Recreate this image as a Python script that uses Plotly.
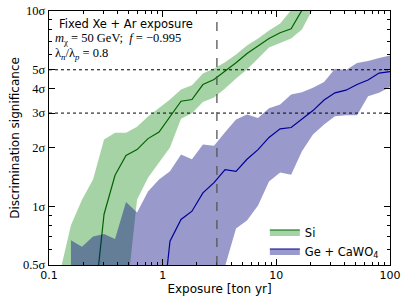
import plotly.graph_objects as go

# Exposure grid [ton yr]
exposure = [0.1, 0.125, 0.156, 0.195, 0.244, 0.305, 0.381, 0.476, 0.595, 0.743,
            0.929, 1.16, 1.45, 1.81, 2.26, 2.83, 3.54, 4.42, 5.52, 6.90,
            8.62, 10.8, 13.5, 16.8, 21.0, 26.3, 32.8, 41.0, 51.3, 64.1,
            80.1, 100.0]

# Si: band indices 1..25, centre indices 4..24
si_band_x = exposure[1:26]
si_upper = [0.46, 0.80, 1.08, 1.37, 2.20, 2.38, 2.38, 2.55, 2.88, 3.20,
            3.52, 3.96, 4.16, 4.79, 5.08, 5.47, 5.99, 6.66, 7.23, 7.95,
            8.63, 10.1, 12.0, 13.0, 14.0]
si_lower = [0.20, 0.20, 0.20, 0.20, 0.20, 0.20, 0.325, 1.08, 1.40, 1.67,
            2.00, 2.81, 2.99, 3.42, 3.61, 4.01, 4.51, 5.02, 5.71, 6.50,
            6.86, 7.23, 8.05, 10.3, 12.0]
si_x = exposure[4:25]
si_mid = [0.27, 0.91, 1.44, 1.82, 1.95, 2.22, 2.40, 2.88, 3.45, 3.52,
          4.20, 4.46, 4.92, 5.43, 6.06, 6.61, 7.23, 7.74, 8.11, 10.1, 12.0]

# Ge + CaWO4: band indices 2..31, centre indices 10..31
ge_band_x = exposure[2:32]
ge_upper = [0.67, 0.62, 0.70, 0.72, 0.68, 1.05, 0.93, 1.19, 1.37, 1.51,
            1.84, 1.74, 2.07, 2.04, 2.39, 2.78, 2.95, 2.83, 3.18, 3.32,
            3.74, 3.84, 4.04, 4.33, 5.06, 4.98, 5.42, 5.54, 5.75, 5.92]
ge_lower = [0.20, 0.20, 0.20, 0.20, 0.20, 0.20, 0.20, 0.20, 0.20, 0.20,
            0.20, 0.20, 0.20, 0.30, 0.49, 0.77, 0.845, 1.01, 1.34, 1.49,
            1.45, 1.91, 2.33, 2.62, 2.89, 2.92, 2.92, 3.66, 3.81, 4.08]
ge_x = exposure[10:32]
ge_mid = [0.20, 0.662, 0.855, 0.943, 1.17, 1.32, 1.54, 1.51, 1.74, 1.95,
          2.25, 2.49, 2.53, 2.78, 3.09, 3.50, 3.81, 3.93, 4.20, 4.43,
          4.81, 4.89]

ref_exposure = 3.0
sigma_levels = [3, 5]

y_tickvals = [0.5, 1, 2, 3, 4, 5, 10]
y_ticktext = ["0.5σ", "1σ", "2σ", "3σ", "4σ", "5σ", "10σ"]
x_tickvals = [0.1, 1, 10, 100]
x_ticktext = ["0.1", "1", "10", "100"]

GREEN_FILL = "rgba(0,128,0,0.35)"
GREEN_LINE = "rgb(0,100,0)"
BLUE_FILL = "rgba(0,0,128,0.40)"
BLUE_LINE = "rgb(0,0,150)"

fig = go.Figure()

fig.add_trace(go.Scatter(
    x=si_band_x + si_band_x[::-1], y=si_upper + si_lower[::-1],
    fill="toself", fillcolor=GREEN_FILL, mode="lines", line=dict(width=0),
    showlegend=False, hoverinfo="skip"))
fig.add_trace(go.Scatter(
    x=si_x, y=si_mid, mode="lines", line=dict(color=GREEN_LINE, width=1.2),
    showlegend=False))
fig.add_trace(go.Scatter(
    x=ge_band_x + ge_band_x[::-1], y=ge_upper + ge_lower[::-1],
    fill="toself", fillcolor=BLUE_FILL, mode="lines", line=dict(width=0),
    showlegend=False, hoverinfo="skip"))
fig.add_trace(go.Scatter(
    x=ge_x, y=ge_mid, mode="lines", line=dict(color=BLUE_LINE, width=1.2),
    showlegend=False))

# legend entries
fig.add_trace(go.Scatter(x=[None], y=[None], mode="lines", fill="toself",
                         fillcolor=GREEN_FILL, line=dict(color=GREEN_LINE, width=1.2),
                         name="Si"))
fig.add_trace(go.Scatter(x=[None], y=[None], mode="lines", fill="toself",
                         fillcolor=BLUE_FILL, line=dict(color=BLUE_LINE, width=1.2),
                         name="Ge + CaWO<sub>4</sub>"))

for s in sigma_levels:
    fig.add_hline(y=s, line=dict(color="black", width=1, dash="dot"))
fig.add_vline(x=ref_exposure, line=dict(color="#555555", width=1.3, dash="dash"))

sans = "DejaVu Sans"
serif = "Liberation Serif"

fig.update_xaxes(
    type="log", range=[-1, 2], tickmode="array", tickvals=x_tickvals, ticktext=x_ticktext,
    ticks="inside", ticklen=6, tickwidth=1, tickcolor="black",
    minor=dict(ticks="inside", ticklen=3, tickwidth=0.8, tickcolor="black", tickmode="array",
               tickvals=[0.2, 0.3, 0.4, 0.5, 0.6, 0.7, 0.8, 0.9, 2, 3, 4, 5, 6, 7, 8, 9,
                         20, 30, 40, 50, 60, 70, 80, 90]),
    showline=True, linecolor="black", linewidth=1.3, mirror="ticks",
    showgrid=False, zeroline=False, automargin=False, ticklabeloverflow="allow",
    tickfont=dict(family=sans, size=11, color="black"),
    title=dict(text="Exposure [ton yr]", font=dict(family=sans, size=12, color="black"), standoff=2))
fig.update_yaxes(
    type="log", range=[-0.30103, 1], tickmode="array", tickvals=y_tickvals, ticktext=y_ticktext,
    ticks="inside", ticklen=6, tickwidth=1, tickcolor="black",
    minor=dict(ticks="inside", ticklen=3, tickwidth=0.8, tickcolor="black", tickmode="array",
               tickvals=[0.6, 0.7, 0.8, 0.9, 6, 7, 8, 9]),
    showline=True, linecolor="black", linewidth=1.3, mirror="ticks",
    showgrid=False, zeroline=False, automargin=False, ticklabeloverflow="allow",
    tickfont=dict(family=serif, size=12.5, color="black"),
    title=dict(text="Discrimination significance", font=dict(family=sans, size=12, color="black"),
               standoff=0))

fig.add_annotation(xref="paper", yref="paper", x=0.022, y=0.985, xanchor="left", yanchor="top",
                   text="Fixed Xe + Ar exposure", showarrow=False,
                   font=dict(family=sans, size=11.5, color="black"))
fig.add_annotation(xref="paper", yref="paper", x=0.012, y=0.93, xanchor="left", yanchor="top",
                   text="<i>m</i><sub>χ</sub> = 50 GeV;  <i>f</i> = −0.995", showarrow=False,
                   font=dict(family=serif, size=12.5, color="black"))
fig.add_annotation(xref="paper", yref="paper", x=0.012, y=0.872, xanchor="left", yanchor="top",
                   text="λ<sub><i>n</i></sub>/λ<sub><i>p</i></sub> = 0.8", showarrow=False,
                   font=dict(family=serif, size=12.5, color="black"))

fig.update_layout(
    width=407, height=302,
    margin=dict(l=49, r=17, t=11, b=37),
    paper_bgcolor="white", plot_bgcolor="white",
    legend=dict(x=0.633, y=0.187, xanchor="left", yanchor="top",
                bgcolor="rgba(0,0,0,0)", itemwidth=30, tracegroupgap=0,
                font=dict(family=sans, size=11.5, color="black")),
)

# remove the default page margin so the figure fills the window exactly
fig.write_html("out.html", config={"displayModeBar": False},
               post_script="document.body.style.margin='0px';")
